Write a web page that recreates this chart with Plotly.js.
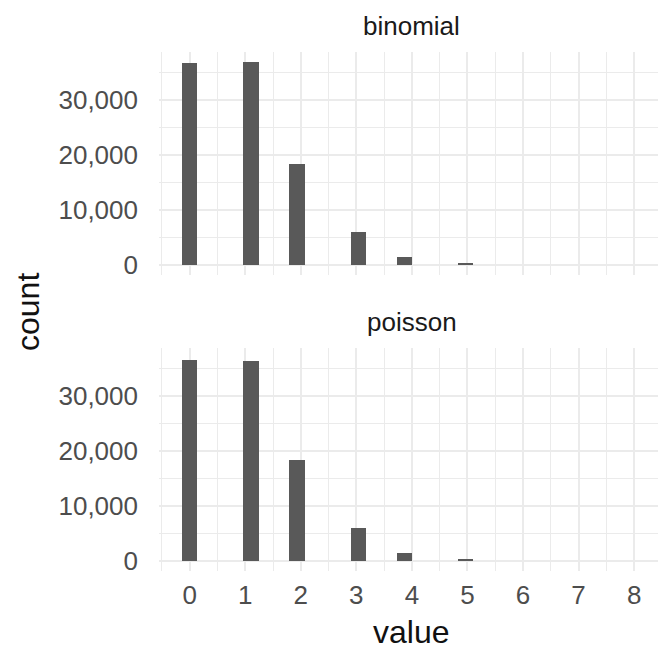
<!DOCTYPE html>
<html>
<head>
<meta charset="utf-8">
<script src="https://cdn.plot.ly/plotly-3.0.1.min.js"></script>
<style>html,body{margin:0;padding:0;background:#fff}#chart{width:658px;height:651px}</style>
</head>
<body>
<div id="chart"></div>
<script>
// Data (counts per integer value, 100000 draws each)
var values = [0, 1, 2, 3, 4, 5, 6, 7, 8];
var binomialCounts = [36650, 36950, 18350, 5950, 1500, 360, 90, 12, 1];
var poissonCounts  = [36700, 36400, 18350, 6000, 1450, 270, 45, 7, 1];
var panelNames = ["binomial", "poisson"];
var xTicks = [0, 1, 2, 3, 4, 5, 6, 7, 8];
var yTicks = [0, 10000, 20000, 30000];
var yTickText = ["0", "10,000", "20,000", "30,000"];

// ggplot2 geom_histogram default binning: 30 bins over the data range, closed right
var nBins = 30;
var vMin = Math.min.apply(null, values), vMax = Math.max.apply(null, values);
var binW = (vMax - vMin) / (nBins - 1);
function binCenter(v) {
  var k = Math.ceil((v - vMin) / binW - 0.5 - 1e-7);
  return vMin + k * binW;
}
var centers = values.map(binCenter);

var FONT = "Liberation Sans, Arial, sans-serif";
var barColor = "#595959";

var traces = [
  {type: "bar", x: centers, y: binomialCounts, width: binW, xaxis: "x", yaxis: "y",
   marker: {color: barColor, line: {width: 0}}, hoverinfo: "x+y"},
  {type: "bar", x: centers, y: poissonCounts, width: binW, xaxis: "x2", yaxis: "y2",
   marker: {color: barColor, line: {width: 0}}, hoverinfo: "x+y"}
];

var H = 651;
function py(px) { return (H - px) / H; }

var gridCol = "#EBEBEB";
var xBase = {
  range: [-0.552, 8.43], tickvals: xTicks, zeroline: false, showline: false,
  showgrid: true, gridcolor: gridCol, gridwidth: 2, ticks: "",
  minor: {dtick: 0.5, tick0: 0.5, showgrid: true, gridcolor: gridCol, gridwidth: 1},
  tickfont: {family: FONT, size: 26, color: "#4D4D4D"}, fixedrange: true
};
var yBase = {
  range: [-1850, 38820], tickvals: yTicks, ticktext: yTickText, zeroline: false,
  showline: false, showgrid: true, gridcolor: gridCol, gridwidth: 2, ticks: "",
  minor: {tickvals: [5000, 15000, 25000, 35000], showgrid: true, gridcolor: gridCol, gridwidth: 1},
  tickfont: {family: FONT, size: 26, color: "#4D4D4D"}, ticklabelstandoff: 20, fixedrange: true
};

var layout = {
  width: 658, height: 651,
  margin: {l: 159, r: 0, t: 0, b: 0},
  paper_bgcolor: "#fff", plot_bgcolor: "#fff",
  showlegend: false, bargap: 0,
  xaxis: Object.assign({}, xBase, {anchor: "y", domain: [0, 1], showticklabels: false}),
  xaxis2: Object.assign({}, xBase, {anchor: "y2", domain: [0, 1], matches: "x", ticklabelstandoff: 6}),
  yaxis: Object.assign({}, yBase, {anchor: "x", domain: [py(275.2), py(51.5)]}),
  yaxis2: Object.assign({}, yBase, {anchor: "x2", domain: [py(571), py(348)]}),
  annotations: [
    {text: panelNames[0], xref: "x", x: 4, yref: "paper", y: py(26), yanchor: "middle",
     showarrow: false, font: {family: FONT, size: 26, color: "#1A1A1A"}},
    {text: panelNames[1], xref: "x2", x: 4, yref: "paper", y: py(321.5), yanchor: "middle",
     showarrow: false, font: {family: FONT, size: 26, color: "#1A1A1A"}},
    {text: "value", xref: "x2", x: 4, yref: "paper", y: 0, yanchor: "bottom", borderpad: 0,
     showarrow: false, font: {family: FONT, size: 32, color: "#111"}},
    {text: "count", xref: "paper", xanchor: "center", x: 0, yref: "paper", y: py(312),
     yanchor: "middle", textangle: -90, showarrow: false, font: {family: FONT, size: 32, color: "#111"}}
  ]
};
// place "count" centred at pixel x ≈ 28
layout.annotations[3].x = (28 - 159) / (658 - 159);

Plotly.newPlot("chart", traces, layout, {displayModeBar: false, staticPlot: true});
</script>
</body>
</html>
